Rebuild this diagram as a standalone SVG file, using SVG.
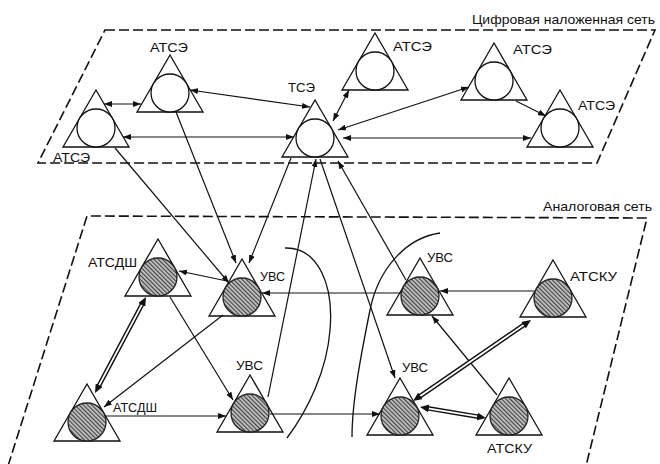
<svg xmlns="http://www.w3.org/2000/svg" width="660" height="464" viewBox="0 0 660 464">
<style>
.plane{fill:none;stroke:#111;stroke-width:1.6;stroke-dasharray:10 4}
.arc{fill:none;stroke:#111;stroke-width:1.3}
.tri{fill:#fff;stroke:#111;stroke-width:1.3}
.cw{fill:#fff;stroke:#111;stroke-width:1.3}
.ch{fill:url(#hatch);stroke:#222;stroke-width:1.3}
.ln{fill:none;stroke:#111;stroke-width:1.2}
.dbo{fill:none;stroke:#111;stroke-width:4.6}
.dbi{fill:none;stroke:#fff;stroke-width:1.8}
.tip{fill:none;stroke:none}
text{font-family:"Liberation Sans",Arial,sans-serif;font-size:13px;fill:#111}
</style>
<defs>
<pattern id="hatch" patternUnits="userSpaceOnUse" width="3" height="3" patternTransform="rotate(-45)">
<rect width="3" height="3" fill="#c4c4c4"/>
<line x1="0.6" y1="0" x2="0.6" y2="3" stroke="#3a3a3a" stroke-width="1.1"/>
</pattern>
<marker id="a" viewBox="0 0 8 6" refX="8" refY="3" markerWidth="8" markerHeight="6" orient="auto-start-reverse" markerUnits="userSpaceOnUse"><path d="M0,0L8,3L0,6z" fill="#111"/></marker>
<marker id="b" viewBox="0 0 9 8" refX="9" refY="4" markerWidth="9" markerHeight="8" orient="auto" markerUnits="userSpaceOnUse"><path d="M0,0L9,4L0,8z" fill="#111"/></marker>
</defs>

<g id="planes">
<path class="plane" d="M105,30 L655,30 L597,163 L38,163 Z"/>
<path class="plane" d="M8,466 L87,216 L647,218 L586,466"/>
<text x="472" y="24" textLength="183" lengthAdjust="spacingAndGlyphs">Цифровая наложенная сеть</text>
<text x="543" y="211" textLength="109" lengthAdjust="spacingAndGlyphs">Аналоговая сеть</text>
</g>

<g id="arcs">
<path class="arc" d="M285,248 C318,247 334,285 330,330 C327,370 308,410 287,438"/>
<path class="arc" d="M440,233 C405,238 378,270 370,310 C362,350 352,400 352,437"/>
</g>

<g id="T1"><path class="tri" d="M96,90 L129,147 L63,147 Z"/><circle class="cw" cx="96" cy="128" r="19"/><text x="53" y="162" textLength="37" lengthAdjust="spacingAndGlyphs">АТСЭ</text></g>
<g id="T2"><path class="tri" d="M170,55 L203,112 L137,112 Z"/><circle class="cw" cx="170" cy="93" r="19"/><text x="150" y="52" textLength="38" lengthAdjust="spacingAndGlyphs">АТСЭ</text></g>
<g id="T3"><path class="tri" d="M315,100 L348,157 L282,157 Z"/><circle class="cw" cx="315" cy="138" r="19"/><text x="288" y="92" textLength="27" lengthAdjust="spacingAndGlyphs">ТСЭ</text></g>
<g id="T4"><path class="tri" d="M375,33 L408,90 L342,90 Z"/><circle class="cw" cx="375" cy="71" r="19"/><text x="393" y="51" textLength="39" lengthAdjust="spacingAndGlyphs">АТСЭ</text></g>
<g id="T5"><path class="tri" d="M494,43 L527,100 L461,100 Z"/><circle class="cw" cx="494" cy="81" r="19"/><text x="513" y="54" textLength="39" lengthAdjust="spacingAndGlyphs">АТСЭ</text></g>
<g id="T6"><path class="tri" d="M560,90 L593,147 L527,147 Z"/><circle class="cw" cx="560" cy="128" r="19"/><text x="578" y="110" textLength="37" lengthAdjust="spacingAndGlyphs">АТСЭ</text></g>

<g id="B1"><path class="tri" d="M158,239 L191,296 L125,296 Z"/><circle class="ch" cx="158" cy="277" r="19"/><text x="88" y="267" textLength="49" lengthAdjust="spacingAndGlyphs">АТСДШ</text></g>
<g id="B2"><path class="tri" d="M242,259 L275,316 L209,316 Z"/><circle class="ch" cx="242" cy="297" r="19"/><text x="260" y="281" textLength="25" lengthAdjust="spacingAndGlyphs">УВС</text></g>
<g id="B3"><path class="tri" d="M420,258 L453,315 L387,315 Z"/><circle class="ch" cx="420" cy="296" r="19"/><text x="427" y="262" textLength="26" lengthAdjust="spacingAndGlyphs">УВС</text></g>
<g id="B4"><path class="tri" d="M553,260 L586,317 L520,317 Z"/><circle class="ch" cx="553" cy="298" r="19"/><text x="570" y="281" textLength="47" lengthAdjust="spacingAndGlyphs">АТСКУ</text></g>
<g id="B5"><path class="tri" d="M87,384 L120,441 L54,441 Z"/><circle class="ch" cx="87" cy="422" r="19"/><text x="113" y="412" textLength="44" lengthAdjust="spacingAndGlyphs">АТСДШ</text></g>
<g id="B6"><path class="tri" d="M250,375 L283,432 L217,432 Z"/><circle class="ch" cx="250" cy="413" r="19"/><text x="236" y="370" textLength="27" lengthAdjust="spacingAndGlyphs">УВС</text></g>
<g id="B7"><path class="tri" d="M400,378 L433,435 L367,435 Z"/><circle class="ch" cx="400" cy="416" r="19"/><text x="402" y="372" textLength="26" lengthAdjust="spacingAndGlyphs">УВС</text></g>
<g id="B8"><path class="tri" d="M509,378 L542,435 L476,435 Z"/><circle class="ch" cx="509" cy="416" r="19"/><text x="487" y="453" textLength="45" lengthAdjust="spacingAndGlyphs">АТСКУ</text></g>

<g id="connectors">
<path class="ln" d="M104,104 L141,104" marker-start="url(#a)" marker-end="url(#a)"/>
<path class="ln" d="M123,137 L294,137" marker-start="url(#a)" marker-end="url(#a)"/>
<path class="ln" d="M190,90 L310,107" marker-start="url(#a)" marker-end="url(#a)"/>
<path class="ln" d="M333,121 L349,90" marker-start="url(#a)" marker-end="url(#a)"/>
<path class="ln" d="M338,130 L469,87" marker-start="url(#a)" marker-end="url(#a)"/>
<path class="ln" d="M343,138 L531,138" marker-start="url(#a)" marker-end="url(#a)"/>
<path class="ln" d="M516,101 L546,116" marker-end="url(#a)"/>
<path class="ln" d="M115,148 L229,283" marker-end="url(#a)"/>
<path class="ln" d="M176,112 L236,263" marker-end="url(#a)"/>
<path class="ln" d="M291,158 L249,263" marker-end="url(#a)"/>
<path class="ln" d="M268,397 L316,159" marker-end="url(#a)"/>
<path class="ln" d="M320,159 L395,378" marker-end="url(#a)"/>
<path class="ln" d="M406,280 L338,161" marker-end="url(#a)"/>
<path class="ln" d="M227,281 L179,271" marker-end="url(#a)"/>
<path class="ln" d="M401,293 L262,293" marker-end="url(#a)"/>
<path class="ln" d="M534,291 L440,291" marker-end="url(#a)"/>
<path class="ln" d="M223,315 L104,407" marker-end="url(#a)"/>
<path class="ln" d="M170,297 L233,400" marker-end="url(#a)"/>
<path class="ln" d="M106,416 L226,416" marker-end="url(#a)"/>
<path class="ln" d="M270,414 L380,414" marker-end="url(#a)"/>
<path class="ln" d="M497,395 L432,316" marker-end="url(#a)"/>
<path class="dbo" d="M142.2,304.1 L98.8,385.9"/>
<path class="dbi" d="M142.2,304.1 L98.8,385.9"/>
<path class="tip" d="M142.2,304.1 L146,297" marker-end="url(#b)"/>
<path class="tip" d="M98.8,385.9 L95,393" marker-end="url(#b)"/>
<path class="dbo" d="M524.4,324.5 L419.6,396.5"/>
<path class="dbi" d="M524.4,324.5 L419.6,396.5"/>
<path class="tip" d="M524.4,324.5 L531,320" marker-end="url(#b)"/>
<path class="tip" d="M419.6,396.5 L413,401" marker-end="url(#b)"/>
<path class="dbo" d="M427.9,408.3 L478.1,416.7"/>
<path class="dbi" d="M427.9,408.3 L478.1,416.7"/>
<path class="tip" d="M427.9,408.3 L420,407" marker-end="url(#b)"/>
<path class="tip" d="M478.1,416.7 L486,418" marker-end="url(#b)"/>
</g>
</svg>
